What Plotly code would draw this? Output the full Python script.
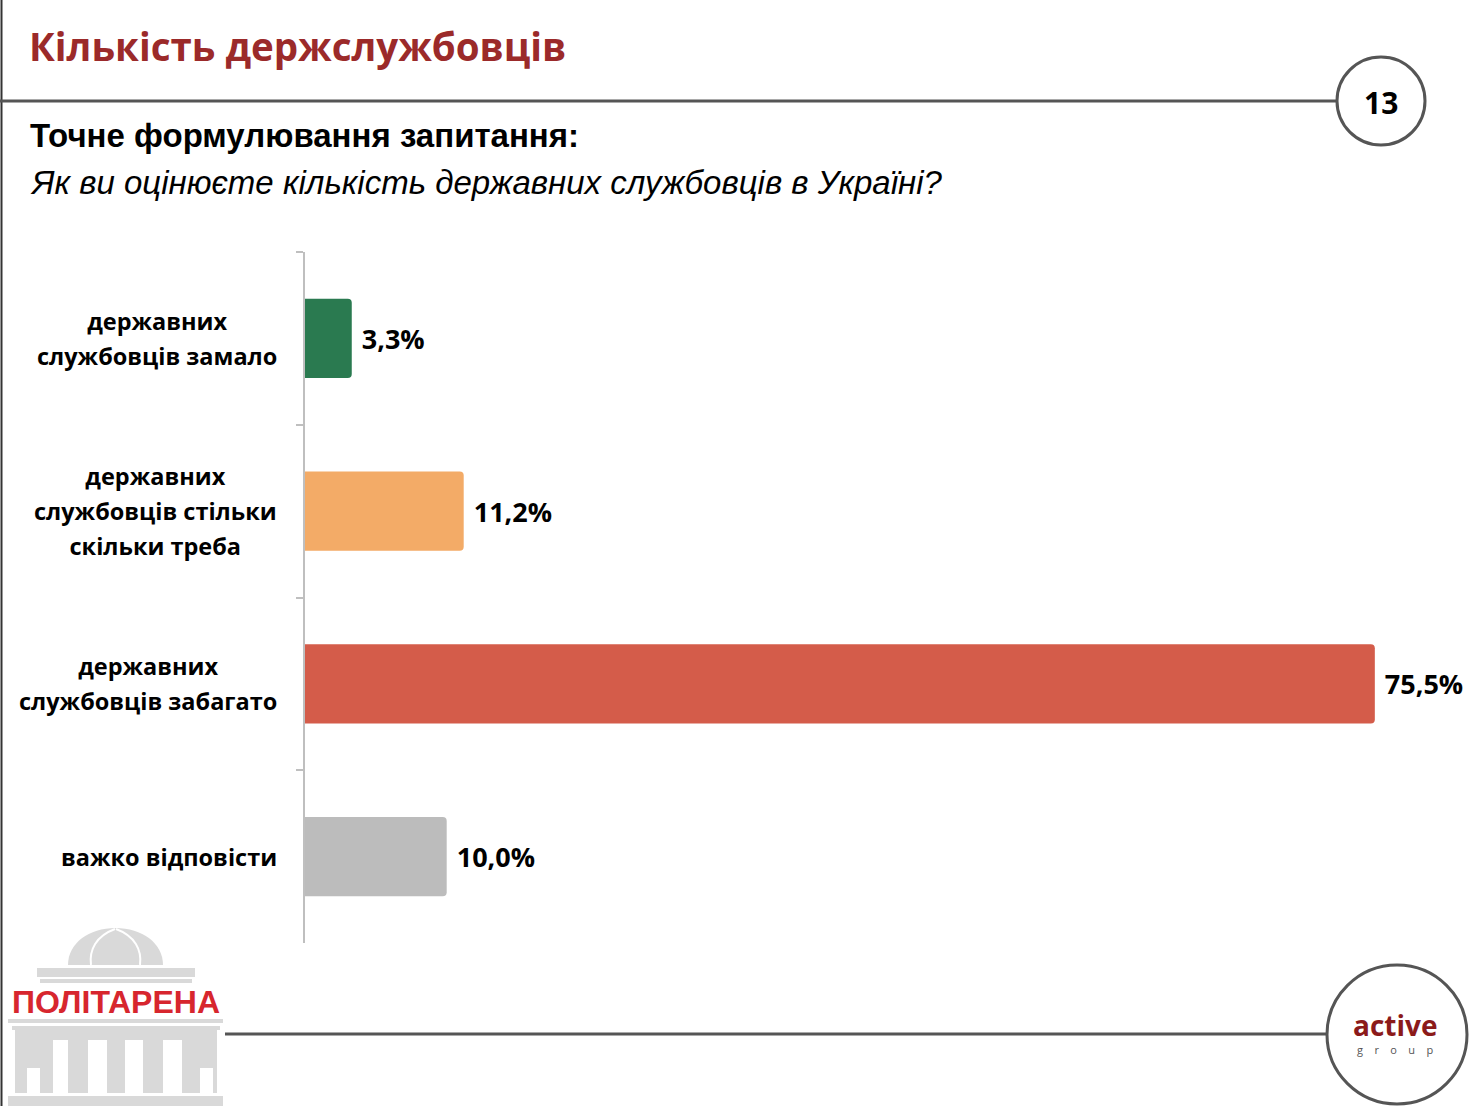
import plotly.graph_objects as go

# survey answers, top to bottom
categories = [
    "державних<br>службовців замало",
    "державних<br>службовців стільки<br>скільки треба",
    "державних<br>службовців забагато",
    "важко відповісти",
]
values = [3.3, 11.2, 75.5, 10.0]
colors = ["#2a7a50", "#f3ab67", "#d45c4a", "#bcbcbc"]

title = "Кількість держслужбовців"
subtitle = "Точне формулювання запитання:"
question = "Як ви оцінюєте кількість державних службовців в Україні?"
page_no = "13"

W, H = 1480, 1106
LINE = "#555555"
LOGO_GRAY = "#d9d9d9"

fig = go.Figure()

fig.add_trace(go.Bar(
    x=values, y=categories, orientation="h",
    marker=dict(color=colors, cornerradius=4, line=dict(width=0)),
    texttemplate=" %{x:.1f}%", textposition="outside",
    textfont=dict(family="Open Sans", size=27, color="black", weight="bold"),
    cliponaxis=False, hoverinfo="skip", xaxis="x", yaxis="y",
))
# empty trace so the pixel-space overlay axes exist
fig.add_trace(go.Scatter(x=[], y=[], xaxis="x2", yaxis="y2", showlegend=False))

shapes = []
ann = []

def rect(x0, y0, x1, y1, color):
    shapes.append(dict(type="rect", xref="x2", yref="y2", x0=x0, y0=y0, x1=x1, y1=y1,
                       fillcolor=color, line=dict(width=0)))

# frame lines and circles
shapes.append(dict(type="line", xref="x2", yref="y2", x0=1.5, x1=1.5, y0=0, y1=H,
                   line=dict(color="#333333", width=2)))
shapes.append(dict(type="line", xref="x2", yref="y2", x0=0, x1=1338, y0=101, y1=101,
                   line=dict(color=LINE, width=3)))
shapes.append(dict(type="circle", xref="x2", yref="y2", x0=1337, x1=1425, y0=57, y1=145,
                   line=dict(color=LINE, width=3), fillcolor="white"))
shapes.append(dict(type="line", xref="x2", yref="y2", x0=225, x1=1328, y0=1034, y1=1034,
                   line=dict(color=LINE, width=3)))
shapes.append(dict(type="circle", xref="x2", yref="y2", x0=1327, x1=1467, y0=965, y1=1104,
                   line=dict(color=LINE, width=3), fillcolor="white"))

# politarena logo, rough
shapes.append(dict(type="path", xref="x2", yref="y2",
                   path="M 68 965 C 68 943, 89 928, 115.5 928 C 142 928, 163 943, 163 965 Z",
                   fillcolor=LOGO_GRAY, line=dict(width=0)))
shapes.append(dict(type="path", xref="x2", yref="y2",
                   path="M 115 929 C 96 936, 89 950, 91 965", line=dict(color="white", width=2)))
shapes.append(dict(type="path", xref="x2", yref="y2",
                   path="M 116 929 C 135 936, 142 950, 140 965", line=dict(color="white", width=2)))
rect(37, 968, 195, 977, LOGO_GRAY)
rect(40, 979, 192, 983, LOGO_GRAY)
rect(8, 1019, 223, 1023, LOGO_GRAY)
rect(12, 1026, 220, 1030, LOGO_GRAY)
rect(15, 1030, 217, 1093, LOGO_GRAY)
for x0, y0, x1 in [(27, 1068, 40), (53, 1040, 68), (88, 1040, 107),
                   (125, 1040, 143), (163, 1040, 182), (200, 1068, 213)]:
    rect(x0, y0, x1, 1093, "white")
rect(8, 1096, 223, 1106, LOGO_GRAY)

ann.append(dict(xref="x2", yref="y2", x=116, y=1002, text="<b>ПОЛІТАРЕНА</b>",
                showarrow=False, font=dict(family="Liberation Sans", size=32, color="#d7262e")))

# headings
ann.append(dict(xref="x2", yref="y2", x=27, y=46, xanchor="left", yanchor="middle",
                text="<b>" + title + "</b>", showarrow=False,
                font=dict(family="Open Sans", size=38.5, color="#9b2a2a")))
ann.append(dict(xref="x2", yref="y2", x=28, y=135, xanchor="left", yanchor="middle",
                text="<b>" + subtitle + "</b>", showarrow=False,
                font=dict(family="Liberation Sans", size=33, color="black")))
ann.append(dict(xref="x2", yref="y2", x=28, y=182, xanchor="left", yanchor="middle",
                text="<i>" + question + "</i>", showarrow=False,
                font=dict(family="Liberation Sans", size=33, color="black")))
ann.append(dict(xref="x2", yref="y2", x=1381, y=102, text="<b>" + page_no + "</b>",
                showarrow=False, font=dict(family="Open Sans", size=30, color="black")))
ann.append(dict(xref="x2", yref="y2", x=1395, y=1025, text="<b>active</b>",
                showarrow=False, font=dict(family="Open Sans", size=28, color="#8b1a1a")))
ann.append(dict(xref="x2", yref="y2", x=1395, y=1049, text="g    r    o    u    p",
                showarrow=False, font=dict(family="Open Sans", size=11, color="#555555")))

# category labels, centred lines like the original; outer size sets the line spacing
for c in categories:
    ann.append(dict(xref="x2", yref="y", x=279, y=c, xanchor="right", align="center",
                    text='<span style="font-size:23.5px"><b>' + c + "</b></span>",
                    showarrow=False,
                    font=dict(family="Open Sans", size=27, color="black")))

fig.update_layout(
    width=W, height=H,
    margin=dict(l=0, r=0, t=0, b=0),
    paper_bgcolor="white", plot_bgcolor="rgba(0,0,0,0)",
    separators=", ",
    showlegend=False,
    bargap=0.54,
    shapes=shapes, annotations=ann,
    xaxis=dict(domain=[305 / W, 1470 / W], range=[0, (1470 - 305) / 14.17],
               showgrid=False, zeroline=False, showticklabels=False, anchor="y"),
    yaxis=dict(domain=[1 - 943 / H, 1 - 252 / H], autorange="reversed",
               showline=True, linecolor="#bfbfbf", linewidth=2,
               ticks="outside", tickson="boundaries", ticklen=7, tickcolor="#bfbfbf",
               tickwidth=2, showticklabels=False, showgrid=False, anchor="x"),
    xaxis2=dict(domain=[0, 1], range=[0, W], visible=False, anchor="y2"),
    yaxis2=dict(domain=[0, 1], range=[H, 0], visible=False, anchor="x2"),
)

fig.write_html("out.html", config={"displayModeBar": False},
               post_script="document.body.style.margin='0';")
